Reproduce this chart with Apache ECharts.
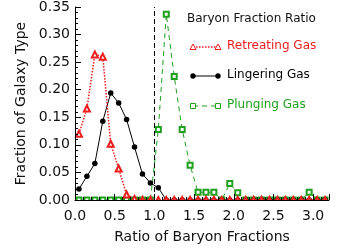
<!DOCTYPE html>
<html><head><meta charset="utf-8">
<script src="https://cdn.jsdelivr.net/npm/echarts@6/dist/echarts.min.js"></script>
<style>html,body{margin:0;padding:0;background:#fff}#c{width:350px;height:250px}</style>
</head><body><div id="c"></div>
<script>
// ---- data ----
const binCenters = [0.05,0.15,0.25,0.35,0.45,0.55,0.65,0.75,0.85,0.95,
                    1.05,1.15,1.25,1.35,1.45,1.55,1.65,1.75,1.85,1.95,
                    2.05,2.15,2.25,2.35,2.45,2.55,2.65,2.75,2.85,2.95,
                    3.05,3.15];
const retreating = [0.120,0.166,0.264,0.260,0.102,0.057,0.010,0.002,0,0,
                    0,0,0,0,0,0,0,0,0,0,
                    0,0,0,0,0,0,0,0,0,0,
                    0,0];
const lingering  = [0.020,0.043,0.066,0.143,0.194,0.176,0.146,0.096,0.047,0.031,
                    0.022,0,0,0,0,0,0,0,0,0,
                    0,0,0,0,0,0,0,0,0,0,
                    0,0];
const plunging   = [0,0,0,0,0,0,0,0,0,0,
                    0.128,0.337,0.224,0.128,0.063,0.014,0.014,0.014,0,0.030,
                    0.013,0,0,0,0,0,0,0,0,0.014,
                    0,0];
const seriesNames = ['Retreating Gas','Lingering Gas','Plunging Gas'];
const legendTitle = 'Baryon Fraction Ratio';
const xTitle = 'Ratio of Baryon Fractions';
const yTitle = 'Fraction of Galaxy Type';
const refLineX = 1.0;

const RED = '#ee1c1c', BLACK = '#000000', GREEN = '#1fa01f';
const FONT = 'DejaVu Sans';

const pairs = v => binCenters.map((x, i) => [x, v[i]]);

const chart = echarts.init(document.getElementById('c'), null, {renderer: 'canvas'});

const axisCommon = {
  type: 'value', z: 10,
  axisLine: {show: true, onZero: false, lineStyle: {color: '#000', width: 1}},
  axisTick: {show: true, inside: true, length: 6, lineStyle: {color: '#000'}},
  minorTick: {show: true, splitNumber: 5, length: 3, lineStyle: {color: '#000'}},
  splitLine: {show: false},
  minorSplitLine: {show: false},
  nameTextStyle: {fontFamily: FONT, fontSize: 14, color: '#111'},
};

const legendRows = [
  {y: 47, color: RED, name: seriesNames[0], kind: 'tri'},
  {y: 76, color: BLACK, name: seriesNames[1], kind: 'dot'},
  {y: 106, color: GREEN, name: seriesNames[2], kind: 'sq'},
];
const graphics = [
  // mask below the x axis, so markers sitting on zero are clipped like the reference
  {type: 'rect', z: 5, silent: true, shape: {x: 70, y: 201, width: 270, height: 6}, style: {fill: '#fff'}},
  {type: 'text', left: 187, top: 13, z: 100,
   style: {text: legendTitle, fill: '#111', font: '12px ' + FONT}}
];
legendRows.forEach(r => {
  const dash = r.kind === 'tri' ? [1.5, 1.5] : (r.kind === 'sq' ? [5, 4] : null);
  graphics.push({type: 'line', z: 100, shape: {x1: 193, y1: r.y, x2: 218, y2: r.y},
    style: {stroke: r.color, lineWidth: r.kind === 'tri' ? 1.5 : 1, lineDash: dash}});
  [193, 218].forEach(cx => {
    if (r.kind === 'tri') {
      graphics.push({type: 'polygon', z: 101, shape: {points: [[cx, r.y - 3], [cx - 3, r.y + 2.5], [cx + 3, r.y + 2.5]]},
        style: {fill: '#fff', stroke: r.color, lineWidth: 1}});
    } else if (r.kind === 'dot') {
      graphics.push({type: 'circle', z: 101, shape: {cx: cx, cy: r.y, r: 2.7}, style: {fill: r.color}});
    } else {
      graphics.push({type: 'rect', z: 101, shape: {x: cx - 2.5, y: r.y - 2.5, width: 5, height: 5},
        style: {fill: '#fff', stroke: r.color, lineWidth: 1}});
    }
  });
  graphics.push({type: 'text', left: 227, top: r.y - 7, z: 100,
    style: {text: r.name, fill: r.color, font: '12px ' + FONT}});
});

chart.setOption({
  animation: false,
  backgroundColor: '#fff',
  grid: {left: 75, right: 21, top: 6, bottom: 50, containLabel: false},
  xAxis: Object.assign({}, axisCommon, {
    min: 0, max: 3.2, interval: 0.5,
    name: xTitle, nameLocation: 'middle', nameGap: 30,
    axisLabel: {margin: 9, fontFamily: FONT, fontSize: 14, color: '#111',
      showMaxLabel: false, formatter: v => (Math.abs(v % 0.5) < 1e-6 || Math.abs(v % 0.5 - 0.5) < 1e-6) ? v.toFixed(1) : ''}
  }),
  yAxis: Object.assign({}, axisCommon, {
    min: 0, max: 0.35, interval: 0.05,
    name: yTitle, nameLocation: 'middle', nameGap: 47, nameRotate: 90,
    axisLabel: {margin: 5, fontFamily: FONT, fontSize: 14, color: '#111', formatter: v => v.toFixed(2)}
  }),
  graphic: graphics,
  series: [
    {
      name: seriesNames[2], type: 'line', data: pairs(plunging),
      symbol: 'emptyRect', symbolSize: 5, showAllSymbol: true, z: 2,
      lineStyle: {color: GREEN, width: 1, type: [5, 4]},
      itemStyle: {color: GREEN, borderWidth: 1}
    },
    {
      name: seriesNames[1], type: 'line', data: pairs(lingering),
      symbol: 'circle', symbolSize: 5.5, showAllSymbol: true, z: 3,
      lineStyle: {color: BLACK, width: 1},
      itemStyle: {color: BLACK},
      markLine: {
        silent: true, symbol: ['none', 'none'], label: {show: false},
        lineStyle: {color: '#000', width: 1, type: [5, 3]},
        data: [{xAxis: refLineX}]
      }
    },
    {
      name: seriesNames[0], type: 'line', data: pairs(retreating),
      symbol: 'emptyTriangle', symbolSize: 6, showAllSymbol: true, z: 4,
      lineStyle: {color: RED, width: 1.5, type: [1.5, 1.5]},
      itemStyle: {color: RED, borderWidth: 1}
    }
  ]
});
</script></body></html>
